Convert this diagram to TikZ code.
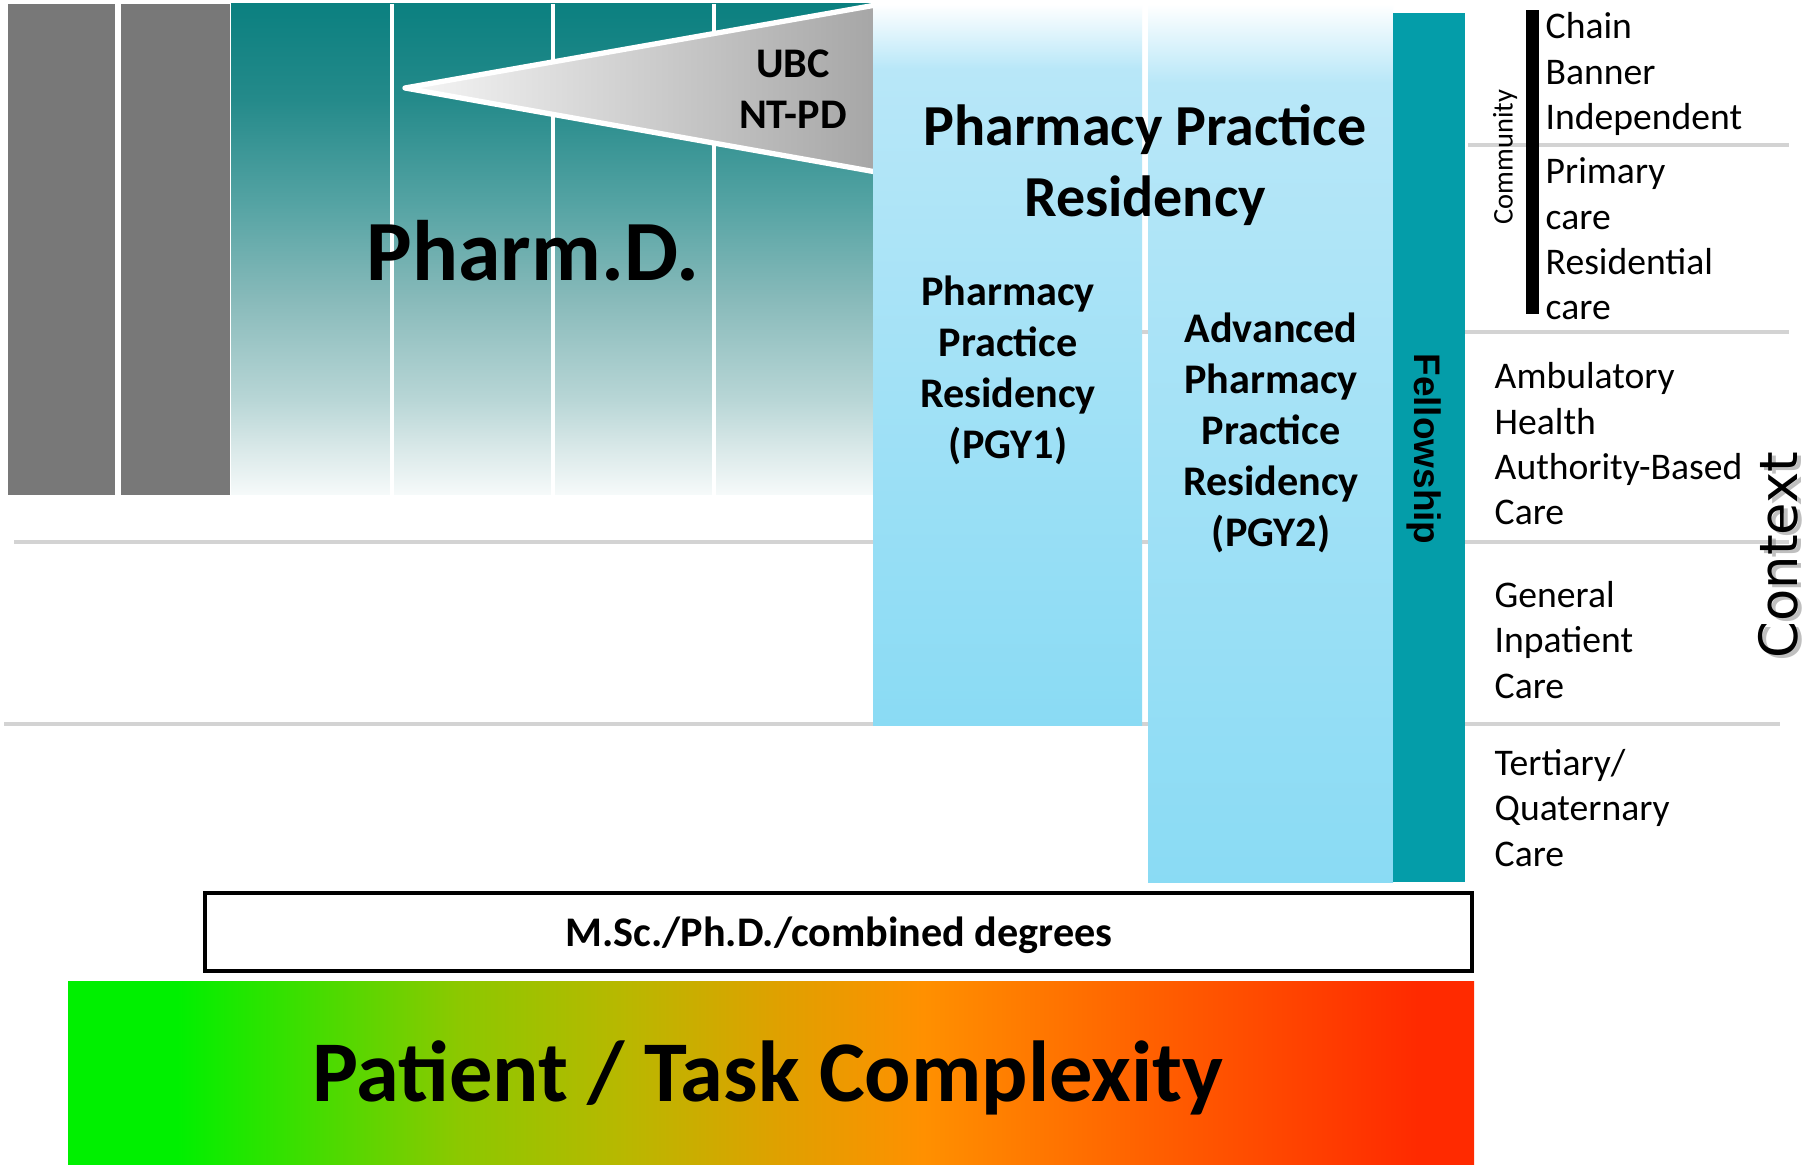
\documentclass[tikz,border=0pt]{standalone}
\usepackage{fontspec}
\setmainfont{Carlito}
\newfontfamily\arialfont{Liberation Sans}
\newfontfamily\verdfont{DejaVu Sans}
\usepackage{tikz}

\definecolor{barGray}{RGB}{120,120,120}
\definecolor{tealTop}{RGB}{11,128,128}
\definecolor{tealA}{RGB}{36,138,138}
\definecolor{tealB}{RGB}{84,163,163}
\definecolor{tealC}{RGB}{136,186,186}
\definecolor{tealD}{RGB}{184,214,214}
\definecolor{tealE}{RGB}{218,233,233}
\definecolor{tealF}{RGB}{246,250,250}
\definecolor{pgyMid}{RGB}{184,231,248}
\definecolor{pgyBot}{RGB}{138,219,244}
\definecolor{fellowTeal}{RGB}{4,157,169}
\definecolor{lineGray}{RGB}{211,211,211}
\definecolor{triLight}{RGB}{246,246,246}
\definecolor{triGray}{RGB}{166,166,166}
\definecolor{cxGreen}{RGB}{0,240,0}
\definecolor{cxLime}{RGB}{140,200,0}
\definecolor{cxOlive}{RGB}{184,184,0}
\definecolor{cxGold}{RGB}{224,160,0}
\definecolor{cxOrange}{RGB}{255,144,0}
\definecolor{cxDark}{RGB}{255,96,0}
\definecolor{cxRed}{RGB}{255,42,0}

\pgfdeclareverticalshading{pharmshade}{100bp}{color(0bp)=(tealF); color(25bp)=(tealF); color(29.6bp)=(tealE); color(34.7bp)=(tealD); color(44.9bp)=(tealC); color(54.8bp)=(tealB); color(65.3bp)=(tealA); color(75bp)=(tealTop); color(100bp)=(tealTop)}
\pgfdeclareverticalshading{pgyshade}{100bp}{color(0bp)=(pgyBot); color(25bp)=(pgyBot); color(70.5bp)=(pgyMid); color(75bp)=(white); color(100bp)=(white)}
\pgfdeclarehorizontalshading{complexityshade}{100bp}{color(0bp)=(cxGreen); color(25bp)=(cxGreen); color(28.9bp)=(cxGreen); color(38.9bp)=(cxLime); color(44.7bp)=(cxOlive); color(50.4bp)=(cxGold); color(55.4bp)=(cxOrange); color(63.5bp)=(cxDark); color(73bp)=(cxRed); color(100bp)=(cxRed)}

\begin{document}
\begin{tikzpicture}[x=0.01cm,y=-0.01cm,
  lbl/.style={font=\bfseries\fontsize{12}{14.5}\selectfont, align=center, inner sep=0pt},
  ctx/.style={font=\fontsize{10.7}{12.9}\selectfont, align=left, inner sep=0pt, anchor=west},
  sepline/.style={draw=lineGray, line width=1.4pt}]
  % Page
  \fill[white] (0,0) rectangle (1809,1165);
  \useasboundingbox (0,0) rectangle (1809,1165);
  % Context separators
  \draw[sepline] (1468,145) -- (1789,145);
  \draw[sepline] (1142,332) -- (1789,332);
  \draw[sepline] (14,542) -- (1789,542);
  \draw[sepline] (4,724) -- (1780,724);
  % Pre-pharmacy years
  \fill[barGray] (8,4) rectangle (115,495);
  \fill[barGray] (121,4) rectangle (230,495);
  % Pharm.D. years
  \shade[shading=pharmshade] (231,4) rectangle (873,495);
  \foreach \x in {392,553,714}
    \draw[white, line width=1.2pt] (\x,4) -- (\x,495);
  \node[lbl, font=\bfseries\fontsize{24.4}{28}\selectfont, anchor=base] (pharmd) at (533,281) {Pharm.D.};
  % Non-traditional wedge
  \draw[white, line width=1.5pt, line join=round, left color=triLight, right color=triGray]
    (405,88) -- (876,5) -- (876,172) -- cycle;
  \node[lbl] (ubc) at (793,89) {UBC\\NT-PD};
  % Residency years
  \shade[shading=pgyshade] (873,4) rectangle (1142,726);
  \shade[shading=pgyshade] (1148,4) rectangle (1393,883);
  \node[lbl, font=\bfseries\fontsize{16.5}{20.2}\selectfont] (ppr) at (1145,165.5) {Pharmacy Practice\\Residency};
  \node[lbl] (pgy1) at (1008,370) {Pharmacy\\Practice\\Residency\\(PGY1)};
  \node[lbl] (pgy2) at (1271,433) {Advanced\\Pharmacy\\Practice\\Residency\\(PGY2)};
  % Fellowship
  \fill[fellowTeal] (1393,13) rectangle (1465,882);
  \node[font=\arialfont\bfseries\fontsize{10.5}{12}\selectfont, rotate=-90, inner sep=0pt] (fellow) at (1424,449) {Fellowship};
  % Practice settings
  \fill[black] (1526,10) rectangle (1539,314);
  \node[font=\fontsize{8.1}{10}\selectfont, rotate=90, inner sep=0pt] (community) at (1505,157) {Community};
  \node[ctx] (chain) at (1545,74) {Chain\\Banner\\Independent};
  \node[ctx] (primary) at (1545,239) {Primary\\care\\Residential\\care};
  \node[ctx] (ambul) at (1494,444) {Ambulatory\\Health\\Authority-Based\\Care};
  \node[ctx] (general) at (1494,640) {General\\Inpatient\\Care};
  \node[ctx] (tertiary) at (1494,808) {Tertiary/\\Quaternary\\Care};
  \node[font=\verdfont\fontsize{15}{18}\selectfont, rotate=90, anchor=base, inner sep=0pt, text=black!50, opacity=0.5] at (1801,558) {Context};
  \node[font=\verdfont\fontsize{15}{18}\selectfont, rotate=90, anchor=base, inner sep=0pt] (context) at (1797,555) {Context};
  % Graduate degrees
  \draw[line width=0.9pt] (205,893) rectangle (1472,971);
  \node[lbl, anchor=base] (degrees) at (839,947) {M.Sc./Ph.D./combined degrees};
  % Complexity scale
  \shade[shading=complexityshade] (68,982) rectangle (1474,1165);
  \node[lbl, font=\bfseries\fontsize{24.6}{28}\selectfont, anchor=base] (complexity) at (768,1102) {Patient / Task Complexity};
\end{tikzpicture}
\end{document}
